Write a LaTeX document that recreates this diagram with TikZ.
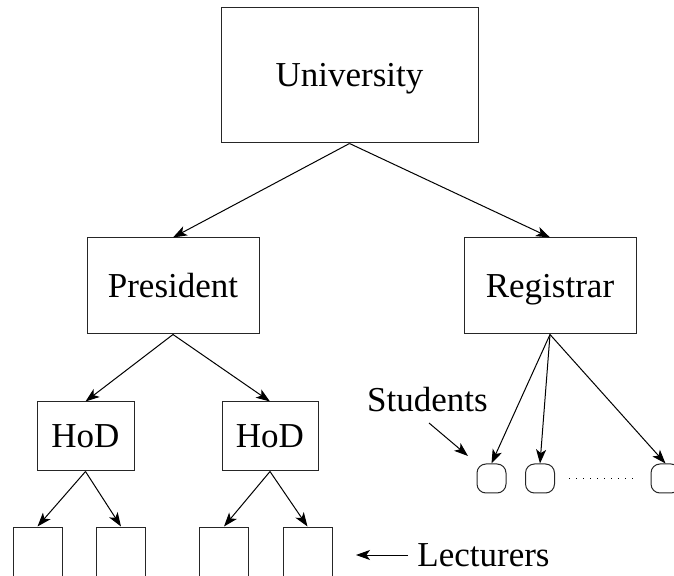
\documentclass[tikz,border=0pt]{standalone}
\usepackage{fontspec}
\setmainfont{Liberation Serif}
\usetikzlibrary{arrows.meta}
\begin{document}
\begin{tikzpicture}[x=0.5pt,y=-0.5pt,
  font=\fontsize{17.5}{20}\selectfont,
  box/.style={draw=black!85,line width=0.5pt,inner sep=0pt},
  named/.style={box,text height=12pt,text depth=0.6pt},
  leaf/.style={box,minimum width=24.5pt,minimum height=30pt},
  student/.style={box,rounded corners=4.5pt,minimum width=14.5pt,minimum height=14.5pt},
  link/.style={line width=0.5pt,-{Stealth[length=7pt,width=5pt,inset=1.8pt]}}]
\useasboundingbox (0,0) rectangle (674,576);
\clip (0,0) rectangle (674,576);

% hierarchy boxes
\node[named,minimum width=128.5pt,minimum height=67.5pt] (uni) at (349.5,75.5) {University};
\node[named,minimum width=86pt,minimum height=48pt] (pres) at (173,286) {President};
\node[named,minimum width=86pt,minimum height=48pt] (reg) at (550,286) {Registrar};
\node[named,minimum width=48.5pt,minimum height=34.5pt] (hodA) at (85.5,436.5) {HoD};
\node[named,minimum width=48pt,minimum height=34.5pt] (hodB) at (270,436.5) {HoD};

% lecturers
\node[leaf] (lecA) at (37.5,557) {};
\node[leaf] (lecB) at (121,557) {};
\node[leaf] (lecC) at (224,557) {};
\node[leaf] (lecD) at (307.5,557) {};

% students
\node[student] (stA) at (491.5,478.5) {};
\node[student] (stB) at (540,478.5) {};
\node[student] (stC) at (665.5,478.5) {};

% labels
\node (lblS) at (427.5,400) {Students};
\node[anchor=west,inner sep=0pt] (lblL) at (417,555) {Lecturers};
\coordinate (sFrom) at (429,423);
\coordinate (sTo) at (468,456);
\coordinate (lTo) at (356,555);

% connectors
\draw[link] (uni.south) -- (pres.north);
\draw[link] (uni.south) -- (reg.north);
\draw[link] (pres.south) -- (hodA.north);
\draw[link] (pres.south) -- (hodB.north);
\draw[link] (hodA.south) -- (lecA.north);
\draw[link] (hodA.south) -- (lecB.north);
\draw[link] (hodB.south) -- (lecC.north);
\draw[link] (hodB.south) -- (lecD.north);
\draw[link] (reg.south) -- (stA.north);
\draw[link] (reg.south) -- (stB.north);
\draw[link] (reg.south) -- (stC.north);
\draw[link] (sFrom) -- (sTo);
\draw[link] ([xshift=-4.5pt]lblL.west) -- (lTo);
\draw[line width=0.6pt,dash pattern=on 0.5pt off 3pt] ([xshift=7pt]stB.east) -- ([xshift=-7pt]stC.west);
\end{tikzpicture}
\end{document}
